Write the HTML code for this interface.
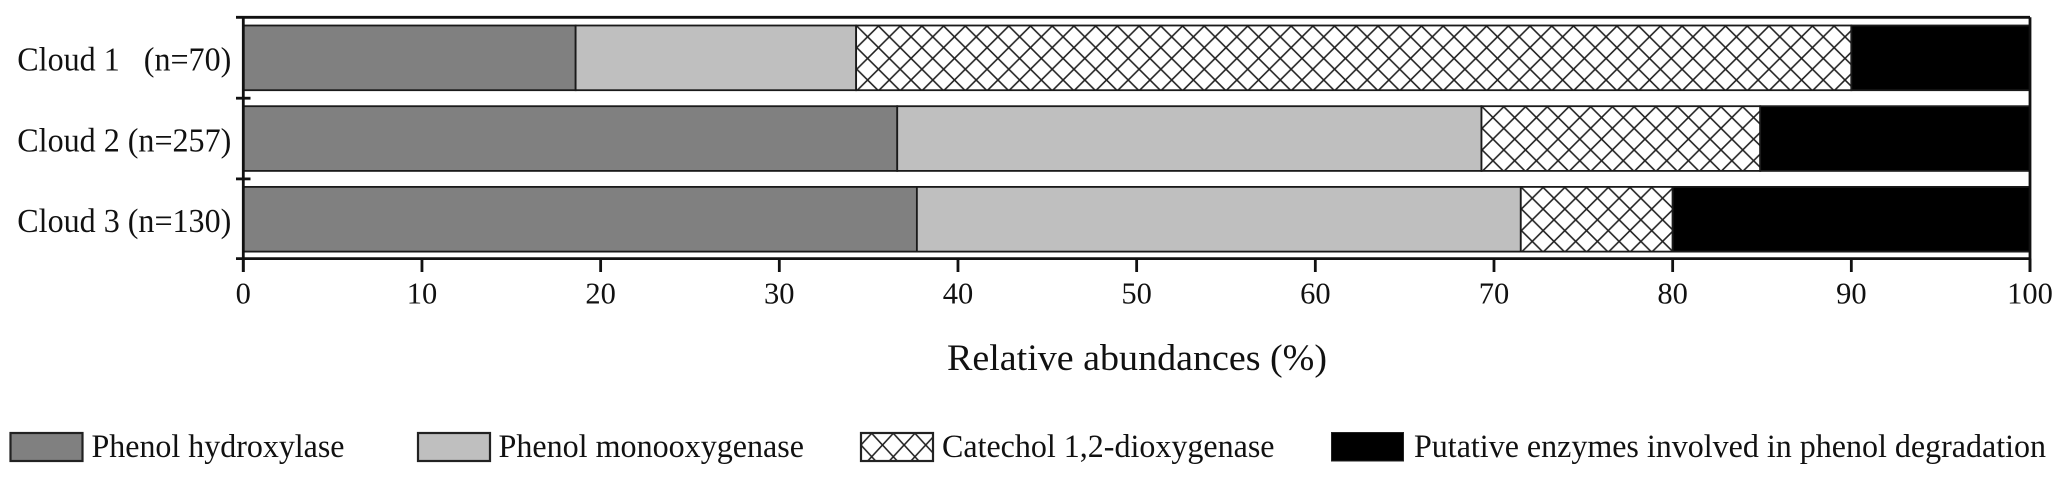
<!DOCTYPE html>
<html lang="en">
<head>
<meta charset="utf-8">
<title>Relative abundances of phenol-degrading enzymes</title>
<style>
html,body{margin:0;padding:0;background:#fff;width:2067px;height:487px;overflow:hidden}
svg{display:block}
text{font-family:"Liberation Serif","Times New Roman",serif;fill:#111}
</style>
</head>
<body>
<svg id="chart" xmlns="http://www.w3.org/2000/svg" width="2067" height="487" viewBox="0 0 2067 487">
  <defs id="defs">
    <pattern id="hatch-legend" patternUnits="userSpaceOnUse" width="21.6" height="23.4" x="860.9" y="421.6">
      <path d="M-1 -1.08L22.6 24.48M-1 24.48L22.6 -1.08" stroke="#222" stroke-width="1.6" fill="none"/>
    </pattern>
  </defs>
  <g id="plot"></g>
  <g id="axes"></g>
  <text x="947" y="370" font-size="37" textLength="380" lengthAdjust="spacingAndGlyphs">Relative abundances (%)</text>
  <g>
    <g>
      <rect x="10.5" y="433" width="72" height="28" fill="#808080" stroke="#222" stroke-width="2.2"/>
      <text x="91.5" y="457" font-size="33" textLength="253" lengthAdjust="spacingAndGlyphs">Phenol hydroxylase</text>
    </g>
    <g>
      <rect x="418" y="433" width="72" height="28" fill="#bfbfbf" stroke="#222" stroke-width="2.2"/>
      <text x="498.5" y="457" font-size="33" textLength="305.5" lengthAdjust="spacingAndGlyphs">Phenol monooxygenase</text>
    </g>
    <g>
      <rect x="861" y="433" width="72" height="28" fill="#fff" stroke="none"/>
      <rect x="861" y="433" width="72" height="28" fill="url(#hatch-legend)" stroke="#222" stroke-width="2.2"/>
      <text x="942" y="457" font-size="33" textLength="332.5" lengthAdjust="spacingAndGlyphs">Catechol 1,2-dioxygenase</text>
    </g>
    <g>
      <rect x="1331.5" y="432.5" width="72" height="28.5" fill="#000" stroke="#222" stroke-width="1"/>
      <text x="1414" y="457" font-size="33" textLength="632" lengthAdjust="spacingAndGlyphs">Putative enzymes involved in phenol degradation</text>
    </g>
  </g>
</svg>
<script>
const categories = ["Cloud 1\u00A0\u00A0\u00A0(n=70)", "Cloud 2 (n=257)", "Cloud 3 (n=130)"];
const seriesNames = ["phenol-hydroxylase", "phenol-monooxygenase", "catechol-dioxygenase", "putative-enzymes"];
const phenolHydroxylase = [18.6, 36.6, 37.7];
const phenolMonooxygenase = [15.7, 32.7, 33.8];
const catecholDioxygenase = [55.7, 15.6, 8.5];
const putativeEnzymes = [10.0, 15.1, 20.0];
const xTicks = [0, 10, 20, 30, 40, 50, 60, 70, 80, 90, 100];

const NS = "http://www.w3.org/2000/svg";
const X0 = 243.3, X1 = 2030, YTOP = 17.3, BAND = 80.7, BAR = 64.7, BARTOP = 25.5, YBOTTOM = 258.6;
const HATCH_W = 21.72, HATCH_H = 21.6;
const xScale = v => X0 + (X1 - X0) * v / 100;
const bandTop = i => BARTOP + BAND * i;
const seriesFills = ["#808080", "#bfbfbf", "hatch", "#000"];
const allSeries = [phenolHydroxylase, phenolMonooxygenase, catecholDioxygenase, putativeEnzymes];
const plot = document.getElementById("plot");
const axes = document.getElementById("axes");
const defs = document.getElementById("defs");

function svgEl(tag, attrs, parent) {
  const el = document.createElementNS(NS, tag);
  for (const k in attrs) el.setAttribute(k, attrs[k]);
  parent.appendChild(el);
  return el;
}

function hatchFor(i, x, y) {
  const id = "hatch-" + i;
  const p = svgEl("pattern", {
    id: id, patternUnits: "userSpaceOnUse", width: HATCH_W, height: HATCH_H,
    x: x + 0.6 - HATCH_W / 2, y: y + 0.5 - HATCH_H / 2
  }, defs);
  svgEl("path", {
    d: "M-1 -1L" + (HATCH_W + 1) + " " + (HATCH_H + 1) + "M-1 " + (HATCH_H + 1) + "L" + (HATCH_W + 1) + " -1",
    stroke: "#222", "stroke-width": 1.6, fill: "none"
  }, p);
  return "url(#" + id + ")";
}

categories.forEach((cat, i) => {
  let cum = 0;
  allSeries.forEach((series, s) => {
    const v = series[i];
    const y = bandTop(i);
    const x = xScale(cum);
    const w = xScale(cum + v) - x;
    let fill = seriesFills[s];
    if (fill === "hatch") {
      const bg = svgEl("rect", {x: x, y: y, width: w, height: BAR, fill: "#fff"}, plot);
      
      
      fill = hatchFor(i, x, y);
    }
    const bar = svgEl("rect", {x: x, y: y, width: w, height: BAR, fill: fill, stroke: "#1a1a1a", "stroke-width": 1.8}, plot);
    
    
    cum += v;
  });
  const label = svgEl("text", {x: 17.3, y: bandTop(i) + 45.2, "font-size": 34, textLength: 214, lengthAdjust: "spacingAndGlyphs"}, axes);
  label.textContent = cat;
  
  
});

const lineStyle = {stroke: "#111", "stroke-width": 2.8};
const frame = [
  ["y-axis-line", X0, YTOP, X0, 272],
  ["top-axis-line", 236, YTOP, X1, YTOP],
  ["x-axis-line", 236, YBOTTOM, X1, YBOTTOM],
  ["right-axis-line", X1, YTOP, X1, 272]
];
frame.forEach(f => {
  const line = svgEl("line", Object.assign({x1: f[1], y1: f[2], x2: f[3], y2: f[4]}, lineStyle), axes);
  
  
});

categories.slice(1).forEach((cat, i) => {
  const y = bandTop(i) + BAR + 8;
  const tick = svgEl("line", Object.assign({x1: 236, y1: y, x2: 250.5, y2: y}, lineStyle), axes);
  
  
});

xTicks.forEach(t => {
  const x = xScale(t);
  const tick = svgEl("line", Object.assign({x1: x, y1: YBOTTOM, x2: x, y2: 272}, lineStyle), axes);
  
  
  const label = svgEl("text", {x: x, y: 303.5, "text-anchor": "middle", "font-size": 30.5}, axes);
  label.textContent = String(t);
  
  
});
</script>
</body>
</html>
